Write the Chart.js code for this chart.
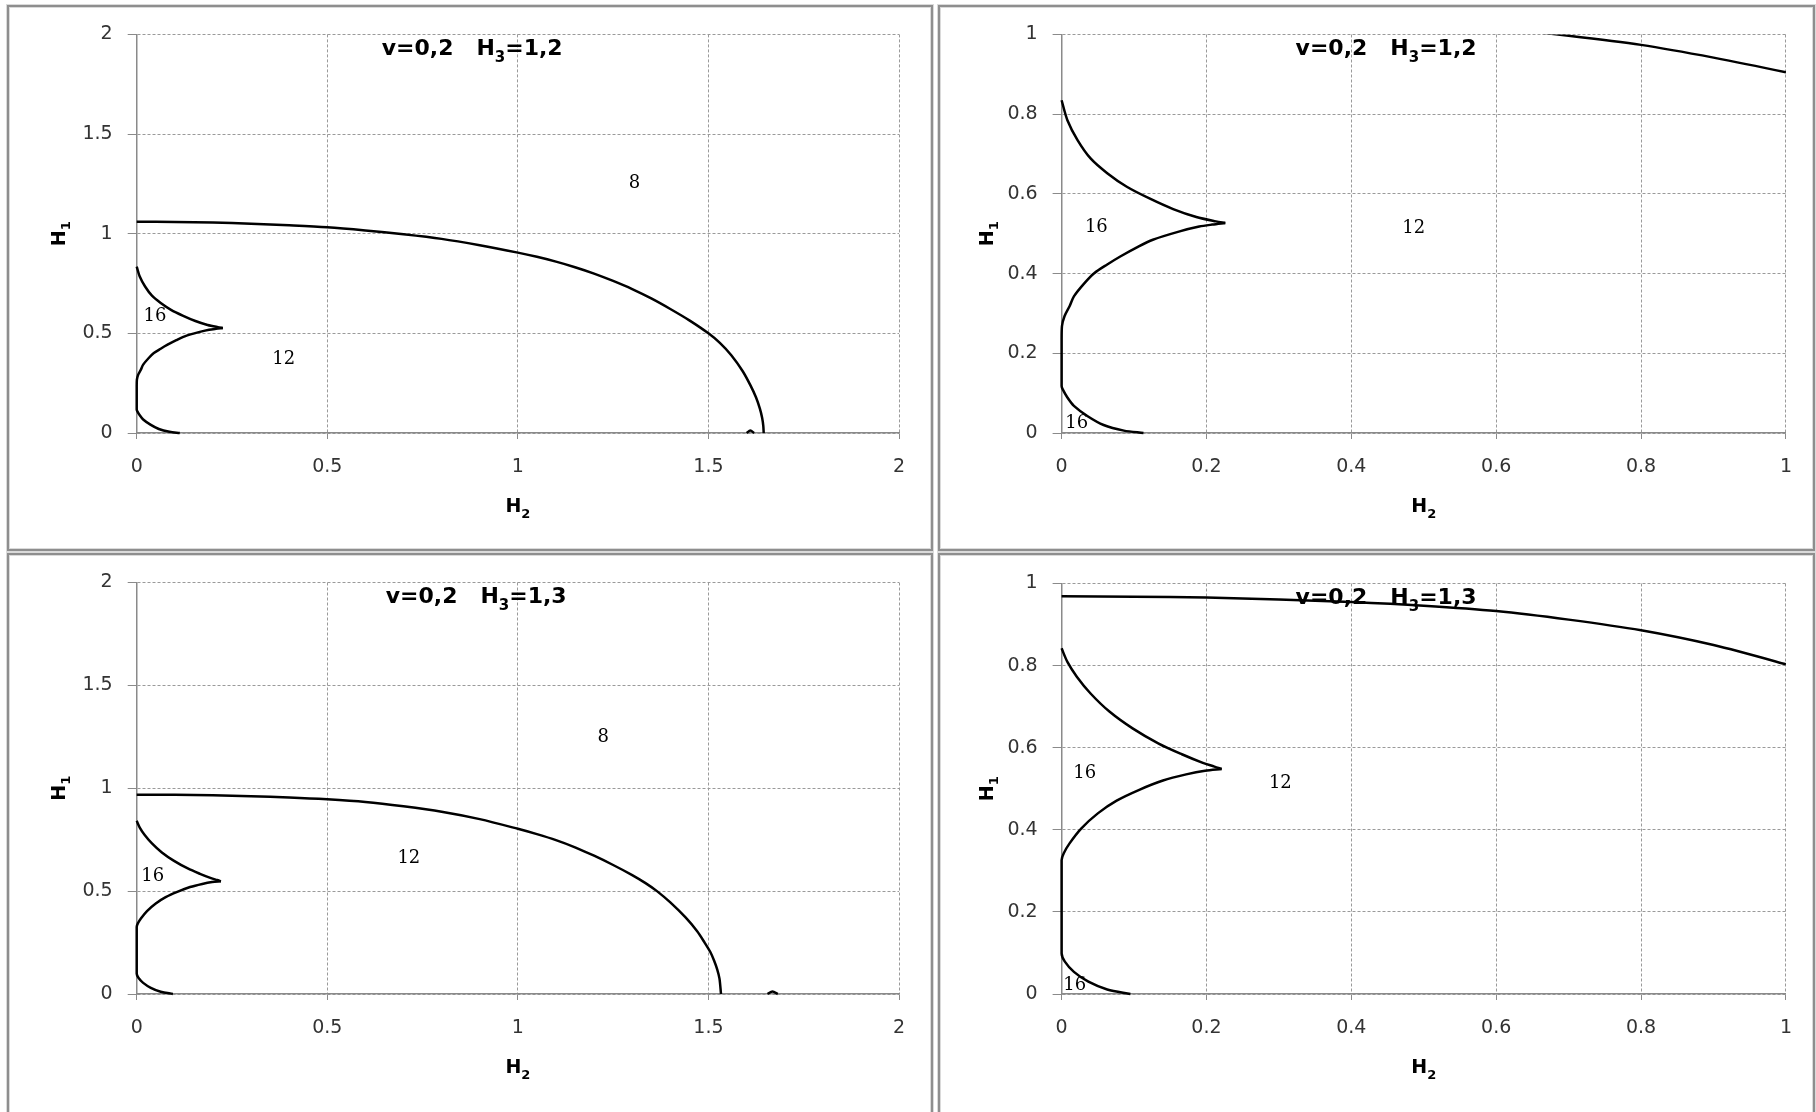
<!DOCTYPE html>
<html>
<head>
<meta charset="utf-8">
<script src="https://cdn.jsdelivr.net/npm/chart.js@4.4.1/dist/chart.umd.min.js"></script>
<style>
    body { margin: 0; background: #fff; width: 1816px; height: 1112px; overflow: hidden; position: relative; }
    .frame { position: absolute; box-sizing: border-box; border: 2px solid #8e8e8e; box-shadow: 0 0 0 1px #dadada, inset 0 0 0 1px #dadada; }
    canvas { position: absolute; }
</style>
</head>
<body>
<div class="frame" style="left:7px;top:5px;width:926px;height:546px"></div>
<div class="frame" style="left:938px;top:5px;width:877px;height:546px"></div>
<div class="frame" style="left:7px;top:553px;width:926px;height:600px"></div>
<div class="frame" style="left:938px;top:553px;width:877px;height:600px"></div>
<script>
// parameters shown in the titles
const NU = '0,2';
const H3_A = '1,2';
const H3_B = '1,3';

// H3 = 1,2 : boundary between zone 12 and zone 8  [H2, H1]
const outerA = [[0, 1.06], [0.1, 1.059], [0.2, 1.056], [0.3, 1.05], [0.4, 1.042], [0.5, 1.032],
    [0.6, 1.016], [0.7, 0.997], [0.8, 0.974], [0.9, 0.942], [1.0, 0.905], [1.05, 0.884],
    [1.1, 0.86], [1.15, 0.832], [1.2, 0.8], [1.25, 0.763], [1.3, 0.722], [1.35, 0.675],
    [1.4, 0.622], [1.45, 0.565], [1.5, 0.5], [1.53, 0.452], [1.56, 0.39], [1.59, 0.31],
    [1.61, 0.24], [1.625, 0.178], [1.635, 0.122], [1.641, 0.075], [1.644, 0.035], [1.645, 0]];
// H3 = 1,2 : cusp bounding zone 16
const cuspUpperA = [[0, 0.835], [0.008, 0.785], [0.022, 0.735], [0.04, 0.689], [0.063, 0.652],
    [0.09, 0.618], [0.122, 0.588], [0.154, 0.562], [0.186, 0.542], [0.213, 0.531], [0.226, 0.527]];
const cuspLowerA = [[0.226, 0.527], [0.208, 0.523], [0.19, 0.518], [0.163, 0.506], [0.126, 0.485],
    [0.104, 0.466], [0.081, 0.443], [0.063, 0.423], [0.045, 0.401], [0.031, 0.375], [0.017, 0.343],
    [0.011, 0.318], [0.004, 0.293], [0.0005, 0.268], [0, 0.235], [0, 0.118], [0.0014, 0.11],
    [0.008, 0.089], [0.017, 0.068], [0.036, 0.042], [0.058, 0.02], [0.086, 0.006], [0.113, 0]];
const bumpA = [[1.6, 0], [1.61, 0.012], [1.62, 0]];

// H3 = 1,3
const outerB = [[0, 0.969], [0.1, 0.968], [0.2, 0.966], [0.3, 0.961], [0.4, 0.955], [0.5, 0.946],
    [0.6, 0.933], [0.7, 0.912], [0.8, 0.886], [0.9, 0.85], [1.0, 0.803], [1.05, 0.777],
    [1.1, 0.748], [1.15, 0.713], [1.2, 0.672], [1.25, 0.627], [1.3, 0.578], [1.335, 0.539],
    [1.365, 0.5], [1.4, 0.445], [1.44, 0.372], [1.47, 0.306], [1.49, 0.25], [1.505, 0.204],
    [1.515, 0.162], [1.523, 0.12], [1.529, 0.075], [1.533, 0]];
const cuspUpperB = [[0, 0.842], [0.008, 0.809], [0.021, 0.773], [0.04, 0.732], [0.066, 0.688],
    [0.098, 0.647], [0.134, 0.61], [0.166, 0.584], [0.195, 0.563], [0.211, 0.554], [0.221, 0.548]];
const cuspLowerB = [[0.221, 0.548], [0.198, 0.544], [0.172, 0.535], [0.14, 0.52], [0.108, 0.498],
    [0.076, 0.471], [0.05, 0.44], [0.027, 0.403], [0.011, 0.367], [0.003, 0.343], [0, 0.326],
    [0, 0.099], [0.0045, 0.079], [0.017, 0.054], [0.037, 0.03], [0.063, 0.011], [0.095, 0]];
const bumpB = [[1.655, 0], [1.668, 0.012], [1.682, 0]];

// zone numbers  [text, H2, H1]
const zonesA = [['8', 1.306, 1.255], ['16', 0.048, 0.583], ['12', 0.386, 0.368]];
const zonesAZoom = [['16', 0.048, 0.517], ['12', 0.486, 0.513], ['16', 0.021, 0.025]];
const zonesB = [['8', 1.224, 1.246], ['12', 0.714, 0.661], ['16', 0.042, 0.571]];
const zonesBZoom = [['16', 0.032, 0.537], ['12', 0.302, 0.512], ['16', 0.018, 0.021]];

const panels = [
    { h3: H3_A, max: 2, step: 0.5, sets: [outerA, cuspUpperA, cuspLowerA, bumpA], zones: zonesA,
      box: { l: 10, t: 8, w: 921, h: 540 }, plot: { l: 136.7, t: 33.5, r: 899, b: 433 }, titleDx: 245, h1Dx: 79 },
    { h3: H3_A, max: 1, step: 0.2, sets: [outerA, cuspUpperA, cuspLowerA], zones: zonesAZoom,
      box: { l: 941, t: 8, w: 868, h: 540 }, plot: { l: 1061.6, t: 34.5, r: 1791, b: 433 }, titleDx: 234, h1Dx: 76 },
    { h3: H3_B, max: 2, step: 0.5, sets: [outerB, cuspUpperB, cuspLowerB, bumpB], zones: zonesB,
      box: { l: 10, t: 555, w: 921, h: 557 }, plot: { l: 136.7, t: 582.5, r: 899, b: 994 }, titleDx: 249, h1Dx: 79 },
    { h3: H3_B, max: 1, step: 0.2, sets: [outerB, cuspUpperB, cuspLowerB], zones: zonesBZoom,
      box: { l: 941, t: 555, w: 868, h: 557 }, plot: { l: 1061.6, t: 583.5, r: 1791, b: 994 }, titleDx: 234, h1Dx: 76 }
];

const SANS = '"DejaVu Sans", sans-serif';

// text with a subscript part: parts = [[text, isSub], ...]
function drawRich(ctx, parts, x, y, size, align) {
    const base = 'bold ' + size + 'px ' + SANS;
    const sub = 'bold ' + Math.round(size * 0.66) + 'px ' + SANS;
    let w = 0;
    parts.forEach(p => { ctx.font = p[1] ? sub : base; w += ctx.measureText(p[0]).width; });
    let cx = align === 'center' ? x - w / 2 : x;
    ctx.textAlign = 'left';
    ctx.textBaseline = 'alphabetic';
    parts.forEach(p => {
        ctx.font = p[1] ? sub : base;
        ctx.fillText(p[0], cx, p[1] ? y + size * 0.3 : y);
        cx += ctx.measureText(p[0]).width;
    });
}

function makeTextPlugin(p) {
    return {
        id: 'panelText',
        afterDatasetsDraw(chart) {
            const { ctx, chartArea: a, scales: { x, y } } = chart;
            ctx.save();
            ctx.fillStyle = '#000';

            // zone numbers
            ctx.font = '18px "DejaVu Serif", serif';
            ctx.textAlign = 'center';
            ctx.textBaseline = 'middle';
            p.zones.forEach(z => ctx.fillText(z[0], x.getPixelForValue(z[1]), y.getPixelForValue(z[2])));

            // title
            drawRich(ctx, [['v=' + NU + '   H', false], ['3', true], ['=' + p.h3, false]],
                a.left + p.titleDx, a.top + 20.5, 22, 'left');

            // axis titles
            drawRich(ctx, [['H', false], ['2', true]], (a.left + a.right) / 2, a.bottom + 79, 19, 'center');
            ctx.translate(a.left - p.h1Dx, (a.top + a.bottom) / 2);
            ctx.rotate(-Math.PI / 2);
            drawRich(ctx, [['H', false], ['1', true]], 0, 7, 19, 'center');
            ctx.restore();
        }
    };
}

const gridStyle = {
    color: '#9a9a9a',
    drawTicks: true,
    tickColor: '#8a8a8a',
    tickBorderDash: [],
    tickWidth: 1
};
const borderStyle = { color: '#8a8a8a', width: 1.5, dash: [3, 2] };

panels.forEach(p => {
    const cv = document.createElement('canvas');
    cv.width = p.box.w;
    cv.height = p.box.h;
    cv.style.left = p.box.l + 'px';
    cv.style.top = p.box.t + 'px';
    document.body.appendChild(cv);

    new Chart(cv, {
        type: 'scatter',
        data: {
            datasets: p.sets.map(s => ({
                data: s.map(([h2, h1]) => ({ x: h2, y: h1 })),
                showLine: true,
                borderColor: '#000',
                borderWidth: 2.5,
                pointRadius: 0,
                tension: 0.3,
                fill: false,
                clip: { left: 2, bottom: 2, top: 0, right: 0 }
            }))
        },
        options: {
            responsive: false,
            animation: false,
            events: [],
            layout: {
                padding: { left: 0, top: p.plot.t - p.box.t, right: p.box.l + p.box.w - p.plot.r, bottom: 0 }
            },
            plugins: {
                legend: { display: false },
                tooltip: { enabled: false }
            },
            scales: {
                x: {
                    type: 'linear',
                    min: 0,
                    max: p.max,
                    ticks: {
                        stepSize: p.step,
                        padding: 17,
                        color: '#333',
                        font: { family: SANS, size: 19 },
                        format: { minimumFractionDigits: 0 }
                    },
                    grid: Object.assign({}, gridStyle, { tickLength: 6 }),
                    border: borderStyle,
                    afterFit: s => { s.height = p.box.t + p.box.h - p.plot.b; }
                },
                y: {
                    type: 'linear',
                    min: 0,
                    max: p.max,
                    ticks: {
                        stepSize: p.step,
                        padding: 15,
                        color: '#333',
                        font: { family: SANS, size: 19 },
                        format: { minimumFractionDigits: 0 }
                    },
                    grid: Object.assign({}, gridStyle, { tickLength: 9 }),
                    border: borderStyle,
                    afterFit: s => { s.width = p.plot.l - p.box.l; }
                }
            }
        },
        plugins: [makeTextPlugin(p)]
    });
});
</script>
</body>
</html>
